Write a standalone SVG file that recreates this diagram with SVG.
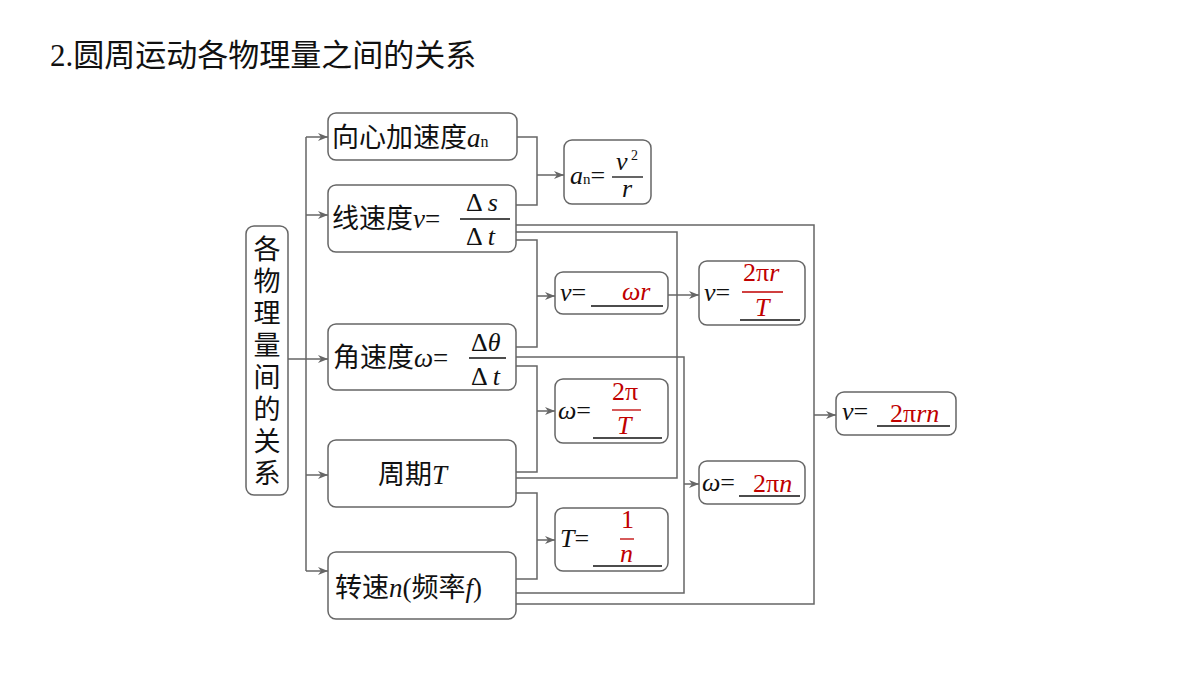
<svg xmlns="http://www.w3.org/2000/svg" width="1200" height="675" viewBox="0 0 1200 675">
<style>
.b{fill:#fff;stroke:#666;stroke-width:1.5}
.c{fill:none;stroke:#666;stroke-width:1.5}
.t{font-family:"Liberation Serif","Noto Sans CJK SC",serif;font-size:26px;fill:#111}
.i{font-style:italic}
.r{fill:#c00000}
.u{stroke:#111;stroke-width:1.5}
.f{stroke:#111;stroke-width:1.3}
.fr{stroke:#c00000;stroke-width:1.3}
</style>
<defs><marker id="a" markerWidth="10" markerHeight="8" refX="10" refY="4" orient="auto" markerUnits="userSpaceOnUse"><path d="M0,0 L10,4 L0,8 L3,4Z" fill="#666"/></marker></defs>
<rect width="1200" height="675" fill="#fff"/>
<text x="50" y="66" font-family="Liberation Serif,'Noto Sans CJK SC',serif" font-size="31" fill="#111">2.圆周运动各物理量之间的关系</text>
<g id="connectors" class="c">
<path d="M288,359H306M306,137V571"/>
<path d="M306,137H328" marker-end="url(#a)"/>
<path d="M306,215H328" marker-end="url(#a)"/>
<path d="M306,359H328" marker-end="url(#a)"/>
<path d="M306,475H328" marker-end="url(#a)"/>
<path d="M306,571H328" marker-end="url(#a)"/>
<path d="M517,137H537V205H516M537,175H564" marker-end="url(#a)"/>
<path d="M516,240H537V347H516M537,296H555" marker-end="url(#a)"/>
<path d="M516,366H537V472H516M537,411H555" marker-end="url(#a)"/>
<path d="M516,493H537V579H516M537,540H555" marker-end="url(#a)"/>
<path d="M516,232H677V478H516"/>
<path d="M668,295H699" marker-end="url(#a)"/>
<path d="M516,357H684V593H516M684,484H699" marker-end="url(#a)"/>
<path d="M516,225H814V604H516M814,415H836" marker-end="url(#a)"/>
</g>
<g id="n0"><rect class="b" x="246" y="226" width="42" height="269" rx="8"/>
<g class="t" text-anchor="middle" style="font-size:27px"><text x="267" y="259">各</text><text x="267" y="291">物</text><text x="267" y="323">理</text><text x="267" y="355">量</text><text x="267" y="387">间</text><text x="267" y="419">的</text><text x="267" y="451">关</text><text x="267" y="483">系</text></g></g>
<g id="n1"><rect class="b" x="328" y="113" width="189" height="47" rx="8"/><text class="t" x="332" y="147" style="font-size:27px">向心加速度<tspan class="i">a</tspan><tspan style="font-size:16px">n</tspan></text></g>
<g id="n2"><rect class="b" x="328" y="185" width="188" height="67" rx="8"/><text class="t" x="332" y="228" style="font-size:27px">线速度<tspan class="i">v</tspan>=</text><line class="f" x1="460" y1="219" x2="510" y2="219"/><text class="t" x="466" y="211">Δ <tspan class="i">s</tspan></text><text class="t" x="466" y="245">Δ <tspan class="i">t</tspan></text></g>
<g id="n3"><rect class="b" x="328" y="324" width="188" height="66" rx="8"/><text class="t" x="333" y="367" style="font-size:27px">角速度<tspan class="i">ω</tspan>=</text><line class="f" x1="469" y1="358" x2="506" y2="358"/><text class="t" x="471" y="351">Δ<tspan class="i">θ</tspan></text><text class="t" x="471" y="385">Δ <tspan class="i">t</tspan></text></g>
<g id="n4"><rect class="b" x="328" y="440" width="188" height="67" rx="8"/><text class="t" x="378" y="484" style="font-size:27px">周期<tspan class="i">T</tspan></text></g>
<g id="n5"><rect class="b" x="328" y="552" width="188" height="67" rx="8"/><text class="t" x="335" y="597" style="font-size:27px">转速<tspan class="i">n</tspan>(频率<tspan class="i">f</tspan>)</text></g>
<g id="n6"><rect class="b" x="564" y="140" width="87" height="64" rx="8"/><text class="t" x="570" y="184"><tspan class="i">a</tspan><tspan style="font-size:15px">n</tspan>=</text><line class="f" x1="612" y1="177" x2="643" y2="177"/><text class="t i" x="616" y="170">v</text><text class="t" x="631" y="160" style="font-size:14px">2</text><text class="t i" x="622" y="197">r</text></g>
<g id="n7"><rect class="b" x="555" y="272" width="113" height="42" rx="8"/><text class="t" x="560" y="301"><tspan class="i">v</tspan>=</text><line class="u" x1="591" y1="306" x2="663" y2="306"/><text class="t i r" x="622" y="300">ωr</text></g>
<g id="n8"><rect class="b" x="555" y="379" width="113" height="64" rx="8"/><text class="t" x="558" y="419"><tspan class="i">ω</tspan>=</text><text class="t r" x="612" y="400">2π</text><line class="fr" x1="612" y1="410" x2="641" y2="410"/><text class="t i r" x="617" y="434">T</text><line class="u" x1="593" y1="438" x2="662" y2="438"/></g>
<g id="n9"><rect class="b" x="555" y="508" width="113" height="63" rx="8"/><text class="t" x="560" y="547"><tspan class="i">T</tspan>=</text><text class="t r" x="621" y="528">1</text><line class="fr" x1="620" y1="539" x2="634" y2="539"/><text class="t i r" x="620" y="562">n</text><line class="u" x1="593" y1="566" x2="662" y2="566"/></g>
<g id="n10"><rect class="b" x="699" y="261" width="106" height="64" rx="8"/><text class="t" x="704" y="301"><tspan class="i">v</tspan>=</text><text class="t r" x="743" y="281">2π<tspan class="i">r</tspan></text><line class="fr" x1="742" y1="292" x2="783" y2="292"/><text class="t i r" x="755" y="316">T</text><line class="u" x1="740" y1="320" x2="800" y2="320"/></g>
<g id="n11"><rect class="b" x="699" y="461" width="106" height="43" rx="8"/><text class="t" x="702" y="491"><tspan class="i">ω</tspan>=</text><text class="t r" x="753" y="492">2π<tspan class="i">n</tspan></text><line class="u" x1="739" y1="496" x2="800" y2="496"/></g>
<g id="n12"><rect class="b" x="836" y="392" width="120" height="43" rx="8"/><text class="t" x="842" y="420"><tspan class="i">v</tspan>=</text><text class="t r" x="890" y="422">2π<tspan class="i">rn</tspan></text><line class="u" x1="877" y1="426" x2="950" y2="426"/></g>
</svg>
